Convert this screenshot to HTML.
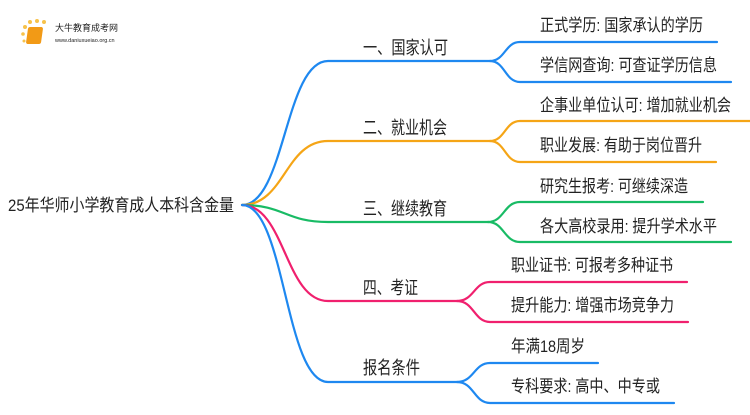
<!DOCTYPE html>
<html><head><meta charset="utf-8"><style>
body{margin:0;width:750px;height:410px;background:#fff;overflow:hidden}
text{font-family:"Liberation Sans","Noto Sans CJK SC",sans-serif;fill:#222}
</style></head><body>
<svg width="750" height="410" viewBox="0 0 750 410" xmlns="http://www.w3.org/2000/svg">
<g fill="none" stroke-width="2.2" stroke-linecap="round">
<path d="M242 205 C285 205,285 61,328 61 L490 61" stroke="#1e88f0"/>
<path d="M490 61 C505 61,505 42,520 42 L717 42" stroke="#1e88f0"/>
<path d="M490 61 C505 61,505 82,520 82 L731 82" stroke="#1e88f0"/>
<path d="M242 205 C285 205,285 141,328 141 L490 141" stroke="#f5a516"/>
<path d="M490 141 C505 141,505 121,520 121 L750 121" stroke="#f5a516"/>
<path d="M490 141 C505 141,505 162,520 162 L716 162" stroke="#f5a516"/>
<path d="M242 205 C285 205,285 222,328 222 L488 222" stroke="#19bb65"/>
<path d="M488 222 C504 222,504 202,520 202 L703 202" stroke="#19bb65"/>
<path d="M488 222 C504 222,504 242,520 242 L731 242" stroke="#19bb65"/>
<path d="M242 205 C285 205,285 301,328 301 L457 301" stroke="#f0206e"/>
<path d="M457 301 C474 301,474 282,490 282 L687 282" stroke="#f0206e"/>
<path d="M457 301 C474 301,474 322,490 322 L688 322" stroke="#f0206e"/>
<path d="M242 205 C285 205,285 382,328 382 L457 382" stroke="#1e88f0"/>
<path d="M457 382 C474 382,474 363,490 363 L598 363" stroke="#1e88f0"/>
<path d="M457 382 C474 382,474 403,490 403 L674 403" stroke="#1e88f0"/>
</g>
<text x="8" y="211" font-size="17" textLength="226" lengthAdjust="spacingAndGlyphs">25年华师小学教育成人本科含金量</text>
<g font-size="18">
<text x="363" y="54" textLength="85" lengthAdjust="spacingAndGlyphs">一、国家认可</text>
<text x="363" y="134" textLength="84" lengthAdjust="spacingAndGlyphs">二、就业机会</text>
<text x="363" y="215" textLength="84" lengthAdjust="spacingAndGlyphs">三、继续教育</text>
<text x="363" y="294" textLength="55" lengthAdjust="spacingAndGlyphs">四、考证</text>
<text x="363" y="374" textLength="57" lengthAdjust="spacingAndGlyphs">报名条件</text>
</g>
<g font-size="17">
<text x="540" y="31" textLength="163" lengthAdjust="spacingAndGlyphs">正式学历: 国家承认的学历</text>
<text x="540" y="71" textLength="177" lengthAdjust="spacingAndGlyphs">学信网查询: 可查证学历信息</text>
<text x="540" y="111" textLength="191" lengthAdjust="spacingAndGlyphs">企事业单位认可: 增加就业机会</text>
<text x="540" y="151" textLength="162" lengthAdjust="spacingAndGlyphs">职业发展: 有助于岗位晋升</text>
<text x="540" y="192" textLength="148" lengthAdjust="spacingAndGlyphs">研究生报考: 可继续深造</text>
<text x="540" y="232" textLength="177" lengthAdjust="spacingAndGlyphs">各大高校录用: 提升学术水平</text>
<text x="511" y="271" textLength="162" lengthAdjust="spacingAndGlyphs">职业证书: 可报考多种证书</text>
<text x="511" y="311" textLength="163" lengthAdjust="spacingAndGlyphs">提升能力: 增强市场竞争力</text>
<text x="511" y="352" textLength="74" lengthAdjust="spacingAndGlyphs">年满18周岁</text>
<text x="511" y="392" textLength="149" lengthAdjust="spacingAndGlyphs">专科要求: 高中、中专或</text>
</g>
<g>
<circle cx="25" cy="27" r="2" fill="#f7c24a"/><circle cx="30" cy="22" r="2" fill="#f7c24a"/>
<circle cx="37" cy="21" r="2" fill="#f7c24a"/><circle cx="44" cy="22" r="2" fill="#f7c24a"/>
<circle cx="23" cy="34" r="1.8" fill="#f7c24a"/><circle cx="24" cy="41" r="1.5" fill="#f7c24a"/>
<rect x="32" y="27" width="15" height="17" rx="2" fill="#f29a16" transform="skewX(-8)"/>
<text x="55" y="31" font-size="9" fill="#444">大牛教育成考网</text>
<text x="55" y="42" font-size="5.5" fill="#888">www.daniuxueiao.org.cn</text>
</g>
</svg>
</body></html>
